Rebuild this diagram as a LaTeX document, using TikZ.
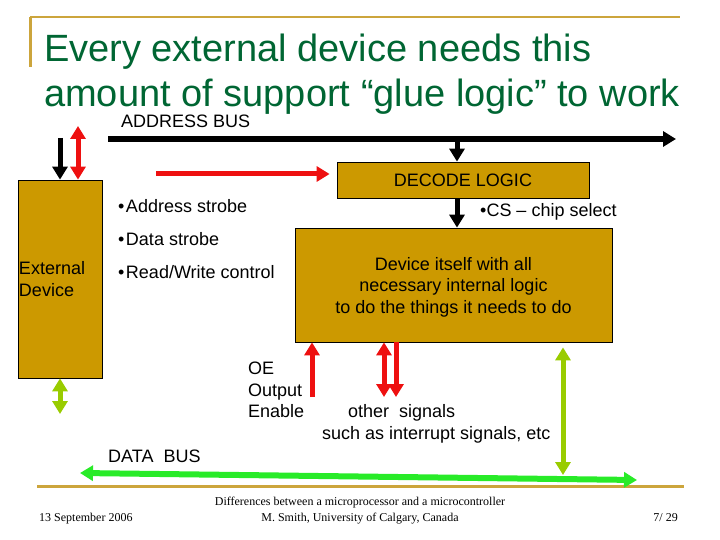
\documentclass[tikz,border=0pt]{standalone}
\usepackage{fontspec}
\setmainfont{Liberation Sans}
\newfontfamily\footfont{Liberation Serif}
\usetikzlibrary{arrows.meta}

\definecolor{goldfill}{RGB}{204,153,0}
\definecolor{goldline}{RGB}{204,165,60}
\definecolor{titlegreen}{RGB}{0,102,51}
\definecolor{sigred}{RGB}{238,16,16}
\definecolor{leafgreen}{RGB}{153,204,0}
\definecolor{busgreen}{RGB}{40,235,40}

\tikzset{
  goldbox/.style={draw=black, line width=0.8pt, fill=goldfill, inner sep=0pt, font=\fontsize{18}{21.5}\selectfont},
  txt/.style={inner sep=0pt, font=\fontsize{18}{21.5}\selectfont},
  titletxt/.style={anchor=base west, inner sep=0pt, text=titlegreen, font=\fontsize{38}{45}\selectfont},
  foottxt/.style={inner sep=0pt, font=\footfont\fontsize{12}{14}\selectfont},
  sig/.style={line width=5pt},
}

\begin{document}
\begin{tikzpicture}[x=1pt, y=-1pt, >={Triangle[width=15pt,length=13pt]}]
\useasboundingbox (0,0) rectangle (720,540);

% Slide frame
\draw[goldline, line width=2.5pt] (30,17) -- (680,17);
\draw[goldline, line width=3pt] (30,17) -- (30,67);
\draw[goldline, line width=3pt] (37,486) -- (684,486);

% Title
\node[titletxt] (title1) at (44,62) {Every external device needs this};
\node[titletxt] (title2) at (44,107) {amount of support “glue logic” to work};

% Boxes
\node[goldbox, minimum width=84pt, minimum height=198pt, text width=82pt, align=left] (ext) at (60,279) {External\\Device};
\node[goldbox, minimum width=252pt, minimum height=36pt] (dec) at (463,180) {DECODE LOGIC};
\node[goldbox, minimum width=317pt, minimum height=114pt, align=center, text depth=-4pt] (dev) at (453.5,285) {Device itself with all\\necessary internal logic\\to do the things it needs to do};

% Address bus and chip select
\coordinate (busL) at (108,139);
\coordinate (busR) at (676,139);
\draw[sig, line width=5.5pt, ->] (busL) -- (busR);
\coordinate (tap) at (457,139);
\draw[sig, ->] (tap) -- (tap |- dec.north);
\draw[sig, ->] (dec.south -| tap) -- (dev.north -| tap);

% Strobes into decode logic
\coordinate (rw) at (156,174);
\draw[sig, sigred, ->, shorten >=7pt] (rw) -- (dec.west |- rw);

% External device connections
\coordinate (extin) at (60,138);
\draw[sig, ->] (extin) -- (extin |- ext.north);
\coordinate (extio) at (78,126);
\draw[sig, sigred, <->] (extio) -- (extio |- ext.north);
\coordinate (extdata) at (60,414);
\draw[sig, leafgreen, <->] (ext.south) -- (extdata);

% Device control and other signals
\coordinate (oe) at (312,397);
\draw[sig, sigred, ->] (oe) -- (oe |- dev.south);
\coordinate (irqa) at (384,397);
\draw[sig, sigred, <->] (irqa |- dev.south) -- (irqa);
\coordinate (irqb) at (396,397);
\draw[sig, sigred, ->] (irqb |- dev.south) -- (irqb);
\coordinate (devdata) at (563,475);
\draw[sig, leafgreen, <->, shorten <=5pt] (dev.south -| devdata) -- (devdata);

% Data bus
\coordinate (dbL) at (80,473);
\coordinate (dbR) at (637,480);
\draw[line width=6pt, busgreen, <->] (dbL) -- (dbR);

% Labels
\node[txt, anchor=base west] (abus) at (121,128) {ADDRESS BUS};
\node[txt, anchor=base west] (astb) at (118,213) {•\kern1.5pt Address strobe};
\node[txt, anchor=base west] (dstb) at (118,245) {•\kern1.5pt Data strobe};
\node[txt, anchor=base west] (rwc) at (118,278) {•\kern1.5pt Read/Write control};
\node[txt, anchor=base west] (cs) at (480,216) {•CS – chip select};
\node[txt, anchor=north west, align=left] (oetxt) at (248,362) {OE\\Output\\Enable};
\node[txt, anchor=base west] (oth1) at (348,417) {other~ signals};
\node[txt, anchor=base west] (oth2) at (322,439) {such as interrupt signals, etc};
\node[txt, anchor=base west] (dbus) at (108,462) {DATA~ BUS};

% Footer
\node[foottxt, anchor=base] (foot1) at (360,505) {Differences between a microprocessor and a microcontroller};
\node[foottxt, anchor=base] (foot2) at (360,521) {M. Smith, University of Calgary, Canada};
\node[foottxt, anchor=base west] (date) at (39,521) {13 September 2006};
\node[foottxt, anchor=base east] (page) at (678,521) {7/ 29};

\end{tikzpicture}
\end{document}
